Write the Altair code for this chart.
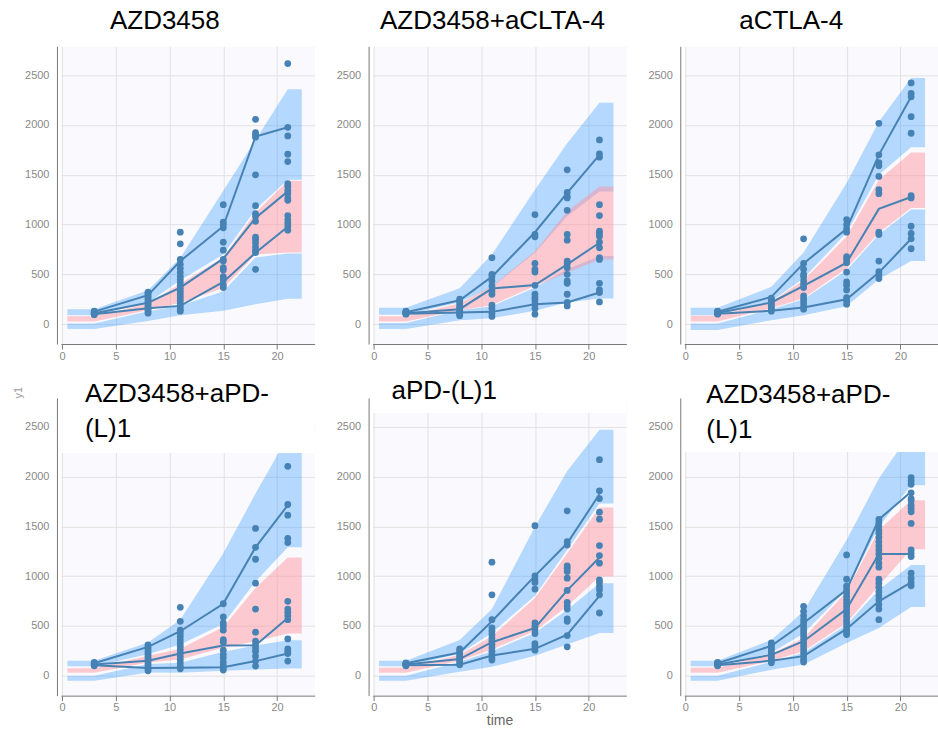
import altair as alt
import pandas as pd

# ---------------- data ----------------
TIMES = [3, 8, 11, 15, 18, 21]
BAND_X = [0.5, 3, 8, 11, 15, 18, 21, 22.3]
X_TICKS = [0, 5, 10, 15, 20]
Y_TICKS = [0, 500, 1000, 1500, 2000, 2500]

TITLES = ["AZD3458", "AZD3458+aCLTA-4", "aCTLA-4",
          "AZD3458+aPD-\n(L)1", "aPD-(L)1", "AZD3458+aPD-\n(L)1"]

# empirical percentile lines (10th, 50th, 90th) at TIMES
P1_P10 = [100, 160, 183, 423, 717, 977]
P1_P50 = [110, 215, 367, 657, 1067, 1333]
P1_P90 = [125, 290, 633, 983, 1883, 1977]
P2_P10 = [105, 117, 123, 200, 217, 317]
P2_P50 = [110, 150, 357, 393, 600, 817]
P2_P90 = [120, 240, 477, 923, 1317, 1700]
P3_P10 = [105, 133, 167, 250, 517, 857]
P3_P50 = [112, 217, 383, 617, 1157, 1277]
P3_P90 = [125, 273, 610, 957, 1700, 2283]
P4_P10 = [105, 77, 80, 85, 147, 223]
P4_P50 = [112, 150, 223, 303, 307, 580]
P4_P90 = [125, 290, 447, 723, 1290, 1713]
P5_P10 = [105, 110, 203, 270, 413, 803]
P5_P50 = [112, 167, 337, 480, 857, 1187]
P5_P90 = [125, 233, 547, 1003, 1330, 1823]
P6_P10 = [105, 150, 197, 470, 747, 937]
P6_P50 = [112, 210, 347, 670, 1223, 1223]
P6_P90 = [125, 300, 530, 863, 1570, 1847]

# prediction-interval bands (low / high edge) at TIMES
P1_B10_LO = [-50, 30, 90, 133, 200, 255]
P1_B10_HI = [5, 130, 185, 330, 670, 710]
P1_B50_LO = [25, 140, 215, 360, 700, 720]
P1_B50_HI = [80, 205, 405, 670, 1120, 1440]
P1_B90_LO = [90, 215, 440, 700, 1150, 1450]
P1_B90_HI = [150, 340, 665, 1340, 1850, 2360]

P2_B10_LO = [-50, 40, 60, 133, 217, 257]
P2_B10_HI = [10, 140, 180, 367, 550, 683]
P2_B50_LO = [25, 140, 190, 383, 517, 650]
P2_B50_HI = [80, 210, 380, 733, 1133, 1383]
P2_B90_LO = [95, 220, 370, 717, 1083, 1333]
P2_B90_HI = [165, 360, 700, 1350, 1817, 2223]

P3_B10_LO = [-60, 40, 90, 180, 450, 633]
P3_B10_HI = [5, 150, 250, 540, 900, 1150]
P3_B50_LO = [25, 160, 260, 560, 917, 1167]
P3_B50_HI = [85, 225, 440, 880, 1450, 1723]
P3_B90_LO = [90, 230, 460, 917, 1500, 1777]
P3_B90_HI = [165, 375, 720, 1417, 2033, 2473]

P4_B10_LO = [-50, 33, 30, 50, 63, 73]
P4_B10_HI = [0, 117, 130, 240, 303, 357]
P4_B50_LO = [30, 133, 163, 280, 347, 423]
P4_B50_HI = [75, 200, 270, 490, 880, 1187]
P4_B90_LO = [95, 217, 313, 520, 947, 1290]
P4_B90_HI = [150, 333, 563, 1230, 1830, 2400]

P5_B10_LO = [-50, 40, 90, 200, 313, 430]
P5_B10_HI = [0, 140, 247, 430, 663, 930]
P5_B50_LO = [30, 150, 263, 450, 697, 997]
P5_B50_HI = [80, 210, 397, 780, 1230, 1690]
P5_B90_LO = [95, 220, 430, 803, 1263, 1730]
P5_B90_HI = [150, 360, 670, 1497, 2057, 2470]

P6_B10_LO = [-50, 60, 113, 330, 480, 690]
P6_B10_HI = [0, 140, 230, 513, 863, 1113]
P6_B50_LO = [30, 150, 247, 530, 903, 1270]
P6_B50_HI = [80, 220, 380, 847, 1463, 1763]
P6_B90_LO = [95, 230, 423, 863, 1497, 1913]
P6_B90_HI = [150, 360, 647, 1363, 1980, 2450]

# observations, by time
P1_OBS = {
    3: [95, 100, 105, 110, 115, 120, 125, 130],
    8: [110, 130, 150, 170, 190, 210, 230, 250, 270, 290, 310, 320],
    11: [923, 807, 650, 600, 560, 520, 480, 450, 420, 390, 360, 330, 300, 270, 240, 210, 180, 150, 130],
    15: [1200, 1023, 1000, 967, 823, 743, 650, 633, 567, 543, 477, 443, 393, 367],
    18: [2057, 1923, 1900, 1877, 1500, 1190, 1110, 1083, 1033, 873, 850, 817, 777, 743, 717, 550],
    21: [2617, 1977, 1890, 1707, 1633, 1410, 1383, 1343, 1310, 1267, 1243, 1090, 1050, 1017, 983, 943],
}
P2_OBS = {
    3: [100, 105, 110, 115, 120, 125, 130],
    8: [85, 100, 120, 140, 160, 180, 210, 230, 250],
    11: [667, 500, 477, 433, 383, 333, 300, 190, 157, 110, 77],
    15: [1100, 900, 877, 610, 550, 523, 390, 300, 267, 243, 200, 157, 100],
    18: [1550, 1323, 1283, 1267, 1143, 900, 843, 633, 610, 567, 500, 433, 410, 300, 217, 183],
    21: [1850, 1710, 1677, 1200, 1090, 933, 910, 883, 823, 767, 667, 650, 410, 343, 317, 223],
}
P3_OBS = {
    3: [100, 105, 110, 115, 120, 125, 130],
    8: [130, 150, 170, 190, 210, 230, 250, 260],
    11: [857, 610, 550, 500, 477, 433, 400, 367, 283, 250, 217, 183, 150],
    15: [1050, 1000, 957, 923, 677, 650, 617, 523, 423, 390, 343, 267, 233, 200],
    18: [2017, 1700, 1623, 1590, 1483, 1350, 1310, 923, 900, 633, 527, 500, 457],
    21: [2423, 2317, 2283, 2083, 1917, 1290, 1267, 983, 910, 857, 757],
}
P4_OBS = {
    3: [100, 105, 110, 115, 120, 125, 130, 135],
    8: [50, 70, 90, 110, 130, 150, 170, 190, 210, 230, 250, 270, 290, 310],
    11: [687, 547, 457, 430, 397, 363, 330, 297, 263, 230, 197, 163, 130, 97, 70],
    15: [723, 590, 530, 497, 457, 363, 337, 257, 213, 180, 137, 103, 80, 57],
    18: [1480, 1290, 1170, 930, 670, 437, 347, 313, 280, 247, 197, 147, 97],
    21: [2103, 1720, 1613, 1380, 1337, 747, 670, 637, 603, 563, 370, 270, 247, 223, 147],
}
P5_OBS = {
    3: [100, 105, 110, 115, 120, 125, 130],
    8: [110, 130, 150, 170, 190, 210, 230, 250, 270],
    11: [1140, 813, 563, 480, 447, 413, 380, 347, 313, 280, 247, 213, 180, 157],
    15: [1507, 1003, 963, 937, 870, 530, 497, 463, 423, 323, 297, 257],
    18: [1657, 1347, 1313, 1103, 1080, 1047, 980, 857, 737, 703, 670, 570, 547, 403, 290],
    21: [2170, 1857, 1780, 1643, 1573, 1307, 1207, 1130, 963, 937, 897, 863, 813, 630],
}
P6_OBS = {
    3: [100, 105, 110, 115, 120, 125, 130, 135],
    8: [130, 150, 170, 190, 210, 230, 250, 270, 290, 310, 330],
    11: [697, 647, 603, 563, 530, 497, 463, 430, 397, 363, 330, 297, 263, 230, 197, 163, 137],
    15: [1213, 970, 900, 863, 830, 797, 763, 730, 697, 663, 630, 597, 563, 530, 497, 463, 430, 413],
    18: [1570, 1537, 1503, 1463, 1430, 1390, 1347, 1303, 1263, 1223, 1180, 1130, 1090, 970, 930,
         890, 847, 803, 763, 713, 670, 563],
    21: [1990, 1957, 1923, 1837, 1780, 1757, 1713, 1680, 1647, 1530, 1263, 1230, 1197, 1030, 980, 937, 903],
}

PANELS = [
    (P1_P10, P1_P50, P1_P90, P1_B10_LO, P1_B10_HI, P1_B50_LO, P1_B50_HI, P1_B90_LO, P1_B90_HI, P1_OBS),
    (P2_P10, P2_P50, P2_P90, P2_B10_LO, P2_B10_HI, P2_B50_LO, P2_B50_HI, P2_B90_LO, P2_B90_HI, P2_OBS),
    (P3_P10, P3_P50, P3_P90, P3_B10_LO, P3_B10_HI, P3_B50_LO, P3_B50_HI, P3_B90_LO, P3_B90_HI, P3_OBS),
    (P4_P10, P4_P50, P4_P90, P4_B10_LO, P4_B10_HI, P4_B50_LO, P4_B50_HI, P4_B90_LO, P4_B90_HI, P4_OBS),
    (P5_P10, P5_P50, P5_P90, P5_B10_LO, P5_B10_HI, P5_B50_LO, P5_B50_HI, P5_B90_LO, P5_B90_HI, P5_OBS),
    (P6_P10, P6_P50, P6_P90, P6_B10_LO, P6_B10_HI, P6_B50_LO, P6_B50_HI, P6_B90_LO, P6_B90_HI, P6_OBS),
]

# ---------------- styling / layout ----------------
W, H = 254, 298
LINE_COLOR = "#4682b4"
BLUE = "#3399ff"
PINK = "#ff8f9a"
FONT = "Liberation Sans"

# title placement per panel: (align, x px, y px, white box height)
TITLE_POS = [
    ("center", 104, -17, 0),
    ("center", 120, -17, 0),
    ("center", 107, -17, 0),
    ("left", 24, 4, 55),
    ("left", 19, 1, 15),
    ("left", 22, 5, 54),
]


def pad_ends(vals):
    return [vals[0]] + list(vals) + [vals[-1]]


def make_panel(i):
    p10, p50, p90, b10lo, b10hi, b50lo, b50hi, b90lo, b90hi, obs = PANELS[i]

    band_rows = []
    for name, lo, hi in (("b10", b10lo, b10hi), ("b90", b90lo, b90hi), ("b50", b50lo, b50hi)):
        for x, l, h in zip(BAND_X, pad_ends(lo), pad_ends(hi)):
            band_rows.append({"x": x, "y": l, "y2": h, "band": name})
    bands = pd.DataFrame(band_rows)

    line_rows = []
    for name, vals in (("p10", p10), ("p50", p50), ("p90", p90)):
        for t, v in zip(TIMES, vals):
            line_rows.append({"x": t, "y": v, "pct": name})
    lines = pd.DataFrame(line_rows)

    obs_rows = [{"x": t, "y": v} for t in TIMES for v in obs[t]]
    points = pd.DataFrame(obs_rows)

    xaxis = alt.Axis(values=X_TICKS, title="time" if i == 4 else None, tickSize=5,
                     labelPadding=1, titlePadding=1, titleFontSize=14,
                     titleFontWeight="normal", titleColor="#666", titleFont=FONT)
    yaxis_kw = dict(values=Y_TICKS, format="d", ticks=False, labelPadding=8, offset=4)
    if i == 3:
        yaxis = alt.Axis(title="y1", titleAnchor="end", titleAlign="left", titlePadding=1,
                         titleFontSize=11, titleFontWeight="normal", titleColor="#999",
                         titleFont=FONT, **yaxis_kw)
    else:
        yaxis = alt.Axis(title=None, **yaxis_kw)

    xs = alt.Scale(domain=[-0.1, 23.5], nice=False, zero=False)
    ys = alt.Scale(domain=[-200, 2790], nice=False, zero=False)
    X = alt.X("x:Q", scale=xs, axis=xaxis)
    Y = alt.Y("y:Q", scale=ys, axis=yaxis)

    blue = alt.Chart(bands).transform_filter(alt.datum.band != "b50").mark_area(
        color=BLUE, opacity=0.35, clip=True).encode(x=X, y=Y, y2="y2:Q", detail="band:N")
    pink = alt.Chart(bands).transform_filter(alt.datum.band == "b50").mark_area(
        color=PINK, opacity=0.45, clip=True).encode(x=X, y=Y, y2="y2:Q")
    lns = alt.Chart(lines).mark_line(color=LINE_COLOR, strokeWidth=2, clip=True).encode(
        x=X, y=Y, detail="pct:N")
    pts = alt.Chart(points).mark_circle(color=LINE_COLOR, size=46, opacity=1, clip=True).encode(
        x=X, y=Y)

    layers = [blue, pink, lns, pts]
    align, tx, ty, box = TITLE_POS[i]
    one = pd.DataFrame({"t": [TITLES[i]]})
    if box:
        layers.append(alt.Chart(one).mark_rect(color="white").encode(
            x=alt.value(0), x2=alt.value(W), y=alt.value(0), y2=alt.value(box)))
    layers.append(alt.Chart(one).mark_text(
        font=FONT, fontSize=26, color="black", align=align, baseline="alphabetic",
        lineBreak="\n", lineHeight=35).encode(text="t:N", x=alt.value(tx), y=alt.value(ty)))
    return alt.layer(*layers).properties(width=W, height=H)


chart = alt.concat(*[make_panel(i) for i in range(6)], columns=3,
                   spacing={"row": 17, "column": 21}, align="each").properties(
    padding={"left": 12, "top": 8, "right": 0, "bottom": 0}
).configure_view(fill="#fafafe", strokeOpacity=0).configure_axis(
    labelFont=FONT, labelFontSize=11, labelColor="#888", domainColor="#777",
    tickColor="#777", gridColor="#e2e2e2", gridWidth=1
)

chart.save("out.html", embed_options={"renderer": "svg", "actions": False})
